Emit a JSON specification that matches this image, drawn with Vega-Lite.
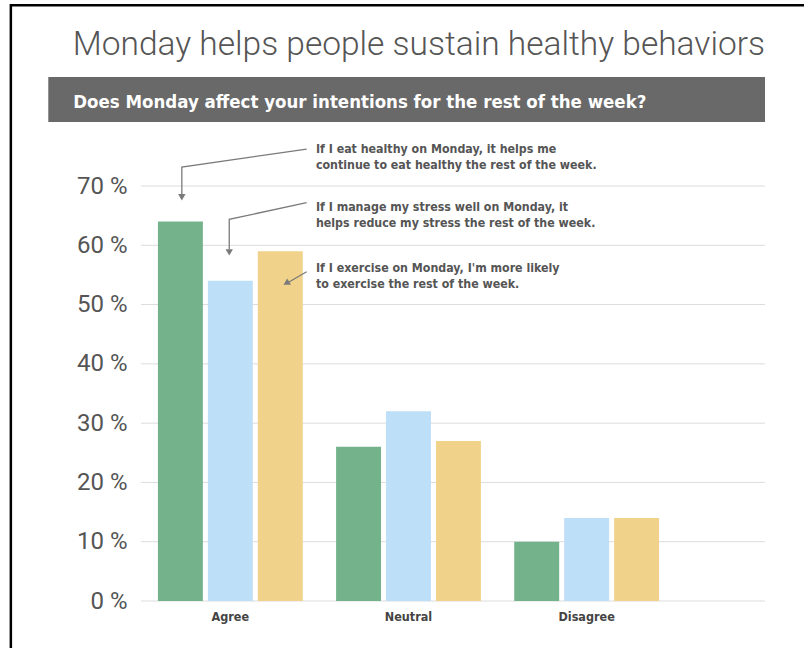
{
  "$schema": "https://vega.github.io/schema/vega-lite/v6.json",
  "autosize": "none",
  "width": 624,
  "height": 415,
  "padding": {"left": 141, "top": 186, "right": 39, "bottom": 47},
  "background": "white",
  "config": {"view": {"stroke": null}},
  "datasets": {
    "bars": [
      {"answer": "Agree", "statement": "Eat healthy", "pct": 64},
      {"answer": "Agree", "statement": "Manage stress", "pct": 54},
      {"answer": "Agree", "statement": "Exercise", "pct": 59},
      {"answer": "Neutral", "statement": "Eat healthy", "pct": 26},
      {"answer": "Neutral", "statement": "Manage stress", "pct": 32},
      {"answer": "Neutral", "statement": "Exercise", "pct": 27},
      {"answer": "Disagree", "statement": "Eat healthy", "pct": 10},
      {"answer": "Disagree", "statement": "Manage stress", "pct": 14},
      {"answer": "Disagree", "statement": "Exercise", "pct": 14}
    ],
    "grid": [{"g": 0}, {"g": 10}, {"g": 20}, {"g": 30}, {"g": 40}, {"g": 50}, {"g": 60}, {"g": 70}],
    "notes": [
      {"note": "If I eat healthy on Monday, it helps me\ncontinue to eat healthy the rest of the week.", "nx": 0.981, "ny": 75.56},
      {"note": "If I manage my stress well on Monday, it\nhelps reduce my stress the rest of the week.", "nx": 0.981, "ny": 65.78},
      {"note": "If I exercise on Monday, I'm more likely\nto exercise the rest of the week.", "nx": 0.981, "ny": 55.54}
    ],
    "leaders": [
      {"arrow": 1, "step": 1, "lx": 0.929, "ly": 76.21},
      {"arrow": 1, "step": 2, "lx": 0.229, "ly": 73.2},
      {"arrow": 1, "step": 3, "lx": 0.229, "ly": 68.6},
      {"arrow": 2, "step": 1, "lx": 0.929, "ly": 67.18},
      {"arrow": 2, "step": 2, "lx": 0.495, "ly": 64.38},
      {"arrow": 2, "step": 3, "lx": 0.495, "ly": 59.3},
      {"arrow": 3, "step": 1, "lx": 0.929, "ly": 55.54},
      {"arrow": 3, "step": 2, "lx": 0.83, "ly": 53.8}
    ],
    "headsDown": [
      {"hx": 0.229, "hy": 68.1},
      {"hx": 0.495, "hy": 58.8}
    ],
    "headsSide": [
      {"hx": 0.815, "hy": 53.6}
    ]
  },
  "layer": [
    {
      "data": {"name": "grid"},
      "mark": {"type": "rule", "stroke": "#dcdcdc", "strokeWidth": 1},
      "encoding": {
        "x": {"datum": 0, "type": "quantitative", "scale": {"domain": [0, 3.5]}, "axis": null},
        "x2": {"datum": 3.5},
        "y": {"field": "g", "type": "quantitative", "title": null}
      }
    },
    {
      "data": {"name": "bars"},
      "mark": {"type": "bar"},
      "encoding": {
        "x": {
          "field": "answer", "type": "nominal",
          "sort": ["Agree", "Neutral", "Disagree"],
          "scale": {"range": [0, 535], "paddingInner": 0.187, "paddingOuter": 0.095},
          "axis": {"title": null, "labelAngle": 0, "ticks": false, "domain": false, "grid": false,
                   "labelFont": "DejaVu Sans Condensed", "labelFontWeight": "bold",
                   "labelFontSize": 12.5, "labelColor": "#444444", "labelPadding": 9}
        },
        "xOffset": {
          "field": "statement", "type": "nominal",
          "sort": ["Eat healthy", "Manage stress", "Exercise"],
          "scale": {"paddingInner": 0.1, "paddingOuter": 0}
        },
        "y": {
          "field": "pct", "type": "quantitative", "title": null,
          "scale": {"domain": [0, 70], "nice": false},
          "axis": {"values": [0, 10, 20, 30, 40, 50, 60, 70], "labelExpr": "datum.value + ' %'",
                   "ticks": false, "domain": false, "grid": false,
                   "labelFont": "Roboto", "labelFontSize": 24, "labelColor": "#555555", "labelPadding": 14}
        },
        "color": {
          "field": "statement", "type": "nominal", "legend": null,
          "scale": {"domain": ["Eat healthy", "Manage stress", "Exercise"], "range": ["#74b28b", "#bddff7", "#f0d28a"]}
        }
      }
    },
    {
      "layer": [
        {
          "data": {"values": [{}]},
          "mark": {"type": "rect", "filled": false, "stroke": "black", "strokeWidth": 2.5},
          "encoding": {
            "x": {"datum": -0.73, "type": "quantitative", "scale": {"domain": [0, 3.5]}, "axis": null},
            "x2": {"datum": 3.8},
            "y": {"datum": 100.5, "type": "quantitative", "title": null},
            "y2": {"datum": -10}
          }
        },
        {
          "data": {"values": [{}]},
          "mark": {"type": "text", "text": "Monday helps people sustain healthy behaviors", "align": "right", "baseline": "alphabetic",
                   "font": "Roboto", "fontWeight": 300, "fontSize": 33.5, "fill": "#555555"},
          "encoding": {
            "x": {"datum": 3.5, "type": "quantitative", "scale": {"domain": [0, 3.5]}, "axis": null},
            "y": {"datum": 92.1, "type": "quantitative", "title": null}
          }
        },
        {
          "data": {"values": [{}]},
          "mark": {"type": "rect", "fill": "#696969"},
          "encoding": {
            "x": {"datum": -0.52, "type": "quantitative", "scale": {"domain": [0, 3.5]}, "axis": null},
            "x2": {"datum": 3.5},
            "y": {"datum": 88.4, "type": "quantitative", "title": null},
            "y2": {"datum": 80.8}
          }
        },
        {
          "data": {"values": [{}]},
          "mark": {"type": "text", "text": "Does Monday affect your intentions for the rest of the week?", "align": "left", "baseline": "alphabetic",
                   "font": "DejaVu Sans Condensed", "fontWeight": "bold", "fontSize": 18.5, "fill": "white"},
          "encoding": {
            "x": {"datum": -0.38, "type": "quantitative", "scale": {"domain": [0, 3.5]}, "axis": null},
            "y": {"datum": 83.15, "type": "quantitative", "title": null}
          }
        },
        {
          "data": {"name": "leaders"},
          "mark": {"type": "line", "stroke": "#7a7a7a", "strokeWidth": 1.3},
          "encoding": {
            "x": {"field": "lx", "type": "quantitative", "scale": {"domain": [0, 3.5]}, "axis": null},
            "y": {"field": "ly", "type": "quantitative", "title": null},
            "detail": {"field": "arrow", "type": "nominal"},
            "order": {"field": "step", "type": "quantitative"}
          }
        },
        {
          "data": {"name": "headsDown"},
          "mark": {"type": "point", "shape": "triangle-down", "filled": true, "fill": "#7a7a7a", "size": 55, "opacity": 1},
          "encoding": {
            "x": {"field": "hx", "type": "quantitative", "scale": {"domain": [0, 3.5]}, "axis": null},
            "y": {"field": "hy", "type": "quantitative", "title": null}
          }
        },
        {
          "data": {"name": "headsSide"},
          "mark": {"type": "point", "shape": "triangle-up", "angle": 240, "filled": true, "fill": "#7a7a7a", "size": 55, "opacity": 1},
          "encoding": {
            "x": {"field": "hx", "type": "quantitative", "scale": {"domain": [0, 3.5]}, "axis": null},
            "y": {"field": "hy", "type": "quantitative", "title": null}
          }
        },
        {
          "data": {"name": "notes"},
          "mark": {"type": "text", "align": "left", "baseline": "alphabetic", "lineBreak": "\n", "lineHeight": 16,
                   "font": "DejaVu Sans Condensed", "fontWeight": "bold", "fontSize": 12.3, "fill": "#555555"},
          "encoding": {
            "x": {"field": "nx", "type": "quantitative", "scale": {"domain": [0, 3.5]}, "axis": null},
            "y": {"field": "ny", "type": "quantitative", "title": null},
            "text": {"field": "note", "type": "nominal"}
          }
        }
      ]
    }
  ],
  "resolve": {"scale": {"x": "independent"}, "axis": {"x": "independent"}}
}
